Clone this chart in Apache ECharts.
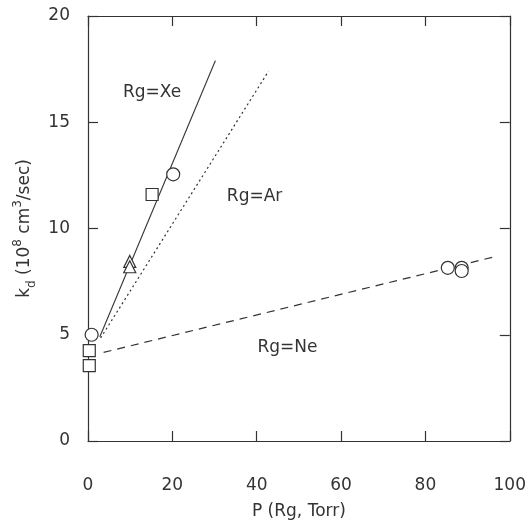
<!DOCTYPE html>
<html>
<head>
<meta charset="utf-8">
<script src="https://cdn.jsdelivr.net/npm/echarts@6/dist/echarts.min.js"></script>
<style>html,body{margin:0;padding:0;background:#fff;}#c{width:529px;height:525px;}</style>
</head>
<body>
<div id="c"></div>
<script>
// Data
const xTicks = [0, 20, 40, 60, 80, 100];
const yTicks = [0, 5, 10, 15, 20];
const circlePts = [[0.86, 5.0], [20.2, 12.55], [85.3, 8.15], [88.6, 8.15], [88.6, 8.0]];
const squarePts = [[0.3, 4.25], [0.3, 3.55], [15.2, 11.6]];
const trianglePts = [[9.9, 8.45], [9.9, 8.2]];
const lineXe = [[2.8, 4.9], [30.2, 17.9]];
const lineAr = [[3.0, 4.85], [42.8, 17.4]];
const lineNe = [[3.7, 4.17], [97, 8.7]];
const annotations = [
  { text: 'Rg=Xe', pos: [15.2, 16.4] },
  { text: 'Rg=Ar', pos: [39.5, 11.5] },
  { text: 'Rg=Ne', pos: [47.3, 4.4] }
];

const FONT = 'DejaVu Sans';
const INK = '#333333';
const chart = echarts.init(document.getElementById('c'));

const axisCommon = {
  axisLine: { show: true, onZero: false, lineStyle: { color: INK, width: 1.2 } },
  axisTick: { show: true, inside: true, length: 10, lineStyle: { color: INK, width: 1.2 } },
  splitLine: { show: false }
};

function markerSeries(data, symbol, size) {
  return {
    type: 'scatter', data: data, symbol: symbol, symbolSize: size,
    itemStyle: { color: '#fff', borderColor: INK, borderWidth: 1.2, opacity: 1 },
    z: 5
  };
}
function lineSeries(data, type) {
  return {
    type: 'line', data: data, symbol: 'none',
    lineStyle: { color: INK, width: 1.2, type: type },
    z: 3
  };
}

chart.setOption({
  animation: false,
  backgroundColor: '#fff',
  grid: { left: 88, right: 13, top: 16, bottom: 84, containLabel: false },
  xAxis: [
    Object.assign({}, axisCommon, {
      type: 'value', min: 0, max: 100, interval: 20, position: 'bottom',
      name: 'P (Rg, Torr)', nameLocation: 'middle', nameGap: 62,
      nameTextStyle: { fontFamily: FONT, fontSize: 17, color: INK },
      axisLabel: { margin: 36, fontFamily: FONT, fontSize: 17, color: INK,
        formatter: v => xTicks.includes(v) ? String(v) : '' }
    }),
    Object.assign({}, axisCommon, {
      type: 'value', min: 0, max: 100, interval: 20, position: 'top',
      axisLabel: { show: false }
    })
  ],
  yAxis: [
    Object.assign({}, axisCommon, {
      type: 'value', min: 0, max: 20, interval: 5, position: 'left',
      name: 'k{sub|d} (10{sup|8} cm{sup|3}/sec)', nameLocation: 'middle', nameGap: 50,
      nameRotate: 90,
      nameTextStyle: { fontFamily: FONT, fontSize: 17, color: INK, lineHeight: 26,
        rich: {
          sub: { fontFamily: FONT, fontSize: 12, color: INK, verticalAlign: 'bottom', lineHeight: 26 },
          sup: { fontFamily: FONT, fontSize: 12, color: INK, verticalAlign: 'top', lineHeight: 26 }
        } },
      axisLabel: { margin: 18, fontFamily: FONT, fontSize: 17, color: INK,
        formatter: v => yTicks.includes(v) ? String(v) : '' }
    }),
    Object.assign({}, axisCommon, {
      type: 'value', min: 0, max: 20, interval: 5, position: 'right',
      axisLabel: { show: false }
    })
  ],
  series: [
    lineSeries(lineXe, 'solid'),
    lineSeries(lineAr, [2, 3]),
    lineSeries(lineNe, [8, 6]),
    markerSeries(circlePts, 'circle', 13),
    markerSeries(squarePts, 'rect', 12),
    markerSeries(trianglePts, 'triangle', 12),
    {
      type: 'scatter', symbolSize: 0, silent: true,
      itemStyle: { opacity: 1 },
      data: annotations.map(a => ({ value: a.pos, name: a.text })),
      label: { show: true, position: 'inside', formatter: p => p.name,
        fontFamily: FONT, fontSize: 17, color: INK, opacity: 1 },
      z: 6
    }
  ]
});
</script>
</body>
</html>
